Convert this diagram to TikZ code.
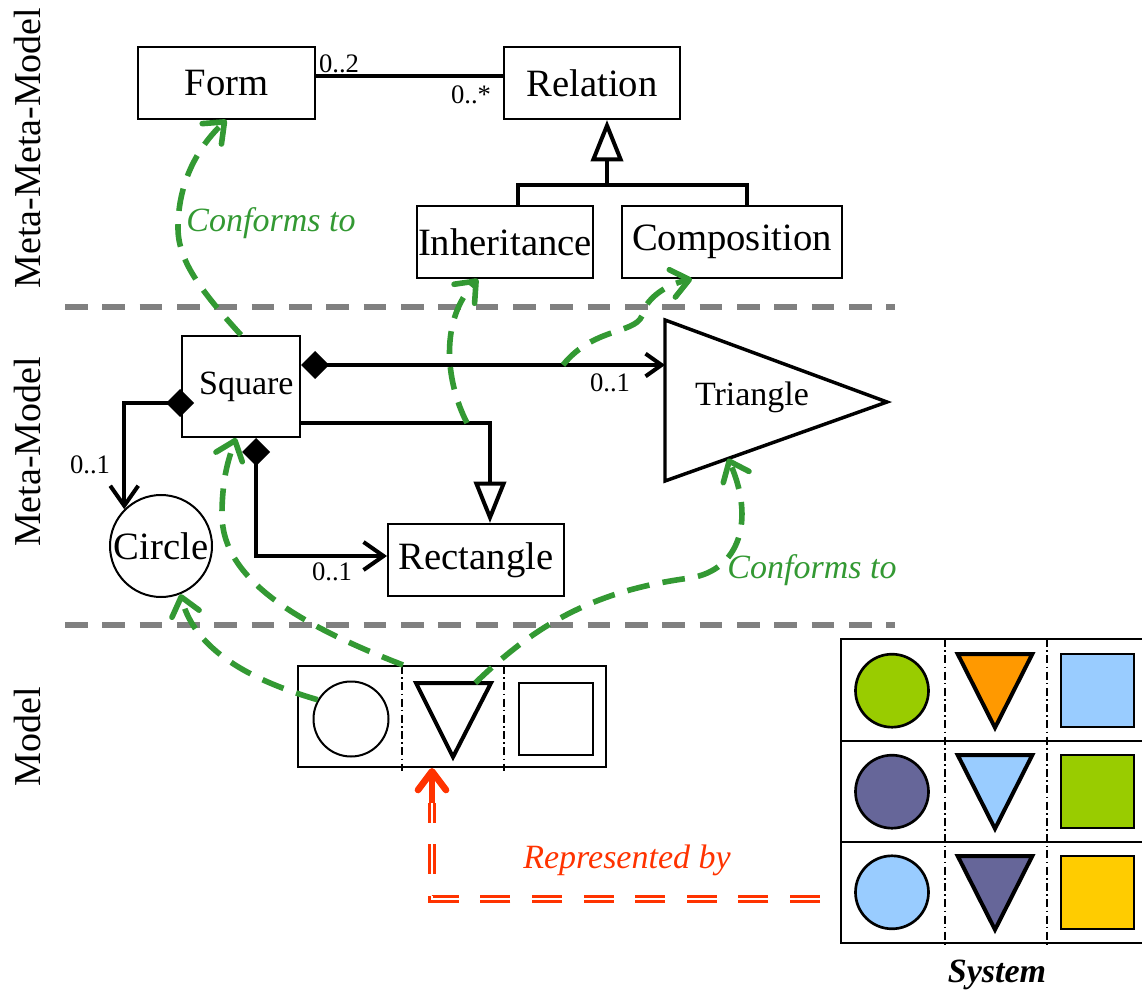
\documentclass[tikz,border=0pt]{standalone}
\usepackage{fontspec}
\setmainfont{Liberation Serif}
\usetikzlibrary{arrows.meta,calc}

\definecolor{conform}{HTML}{339933}
\definecolor{represent}{HTML}{FF3300}
\definecolor{levelgray}{HTML}{808080}
\definecolor{sysgreen}{HTML}{99CC00}
\definecolor{sysorange}{HTML}{FF9900}
\definecolor{sysblue}{HTML}{99CCFF}
\definecolor{syspurple}{HTML}{666699}
\definecolor{sysyellow}{HTML}{FFCC00}
\newcommand{\px}{0.75pt}

\tikzset{
  umlbox/.style={draw, line width=1.5pt, inner sep=0pt, font=\fontsize{29}{34}\selectfont},
  umlline/.style={line width=3pt},
  mult/.style={inner sep=0pt, font=\fontsize{20}{24}\selectfont},
  levelline/.style={levelgray, line width=4.5pt, dash pattern=on 17pt off 11pt},
  divider/.style={line width=1.8pt, dash pattern=on 6pt off 2.5pt on 1.2pt off 2.5pt},
  conformsto/.style={conform, line width=4.2pt, dash pattern=on 17pt off 10pt,
    -{Straight Barb[round, length=13pt, width=21pt]}},
  conflabel/.style={conform, inner sep=0pt, font=\fontsize{25.5}{30}\selectfont\itshape},
  represents/.style={represent, line width=2.4pt, double=white, double distance=1.4pt,
    dash pattern=on 22.5pt off 16.2pt},
  levellabel/.style={rotate=90, inner sep=0pt, font=\fontsize{28.5}{34}\selectfont},
  comp/.tip={Diamond[length=21pt, width=21pt]},
  nav/.tip={Straight Barb[length=15pt, width=21pt]},
  gen/.tip={Triangle[open, length=31pt, width=24pt]}
}

\begin{document}
\begin{tikzpicture}[x=0.75pt, y=-0.75pt]
\useasboundingbox (0,0) rectangle (1142,994);

% levels
\node[levellabel] (mmmodel) at (28,148) {Meta-Meta-Model};
\node[levellabel] (mmodel) at (28,452) {Meta-Model};
\node[levellabel] (mlevel) at (28,737) {Model};
\draw[levelline] (65,307) -- (895,307);
\draw[levelline] (65,625) -- (895,625);

% meta-meta-model
\node[umlbox, minimum width=177*\px, minimum height=72*\px] (form) at (226.5,83) {Form};
\node[umlbox, minimum width=176*\px, minimum height=72*\px] (relation) at (592,83) {Relation};
\node[umlbox, minimum width=176*\px, minimum height=72*\px] (inheritance) at (505,242) {Inheritance};
\node[umlbox, minimum width=220*\px, minimum height=72*\px] (composition) at (732,242) {Composition};
\draw[umlline] (form.east |- 0,76) -- (relation.west |- 0,76);
\node[mult] at (339,64) {0..2};
\node[mult] at (471,95) {0..*};
\draw[umlline] (inheritance.north -| 518,0) -- (518,185) -- (747,185) -- (composition.north -| 747,0);
\draw[umlline, -{gen}] (607,185) -- (relation.south -| 607,0);

% meta-model
\node[umlbox, minimum width=118*\px, minimum height=101*\px, font=\fontsize{25.5}{30}\selectfont] (square) at (241,386.5) {\hspace*{8pt}Square};
\node[umlbox, minimum width=176*\px, minimum height=72*\px] (rectangle) at (476,560) {Rectangle};
\node[umlbox, circle, minimum size=102*\px] (circle) at (161,546) {Circle};
\coordinate (tri-a) at (665,320);
\coordinate (tri-b) at (665,481);
\coordinate (tri-c) at (887,402);
\draw[line width=2.6pt, line join=miter] (tri-a) -- (tri-b) -- (tri-c) -- cycle;
\node[font=\fontsize{25.5}{30}\selectfont] (triangle) at (752,397) {Triangle};

\draw[umlline, {comp}-{Straight Barb[length=12pt, width=17pt]}] (square.east |- 0,365) -- (tri-a |- 0,365);
\draw[umlline, {comp}-{nav}] ($(square.west |- 0,403)+(13,0)$) -| (circle.north west);
\draw[umlline, {comp}-{nav}] (square.south -| 256,0) |- (rectangle.west |- 0,556);
\draw[umlline, -{gen}] (square.east |- 0,423) -| (rectangle.north -| 490,0);
\node[mult] at (610,383) {0..1};
\node[mult] at (90,465) {0..1};
\node[mult] at (332,572) {0..1};

% model
\node[draw, line width=1.5pt, minimum width=308*\px, minimum height=101*\px] (model) at (452,716.5) {};
\draw[divider] (402,666) -- (402,771);
\draw[divider] (504,666) -- (504,771);
\node[draw, circle, line width=1.5pt, minimum size=75*\px] (mcircle) at (351,719) {};
\coordinate (mtri-l) at (416,683);
\coordinate (mtri-r) at (491,683);
\coordinate (mtri-b) at (453,757);
\draw[line width=3pt] (mtri-l) -- (mtri-r) -- (mtri-b) -- cycle;
\draw[line width=1.5pt] (519,683) rectangle (593,755);

% system
\node[draw, line width=1.5pt, minimum width=309*\px, minimum height=304*\px] (system) at (995.5,791) {};
\draw[line width=1.5pt] (841,741) -- (1150,741);
\draw[line width=1.5pt] (841,842) -- (1150,842);
\draw[divider] (945,639) -- (945,945);
\draw[divider] (1047,639) -- (1047,945);
\filldraw[fill=sysgreen, line width=2pt] (892,690.7) circle (36.5);
\filldraw[fill=syspurple, line width=2pt] (892,791.7) circle (36.5);
\filldraw[fill=sysblue, line width=2pt] (892,892.3) circle (36.5);
\filldraw[fill=sysorange, line width=3pt] (957.7,654) -- (1032.3,654) -- (995,727.7) -- cycle;
\filldraw[fill=sysblue, line width=3pt] (957.7,755) -- (1032.3,755) -- (995,828.7) -- cycle;
\filldraw[fill=syspurple, line width=3pt] (957.7,856) -- (1032.3,856) -- (995,929.7) -- cycle;
\filldraw[fill=sysblue, line width=1.5pt] (1060.7,654.3) rectangle (1134,726.7);
\filldraw[fill=sysgreen, line width=1.5pt] (1060.7,755.3) rectangle (1134,827.7);
\filldraw[fill=sysyellow, line width=1.5pt] (1060.7,856.3) rectangle (1134,928.7);
\node[font=\fontsize{25.5}{30}\selectfont\bfseries\itshape] (systemlabel) at (997,975) {System};

% represented by
\coordinate (repstart) at (820,899);
\draw[represents] (repstart) -| (432,803);
\draw[represent, line width=5pt, -{Straight Barb[round, length=14pt, width=21pt]}] (432,803) -- (model.south -| 432,0);
\node[represent, font=\fontsize{25.5}{30}\selectfont\itshape] (replabel) at (627,860) {Represented by};

% conforms to
\draw[conformsto] (square.north) .. controls (200,290) and (178,260) .. (178,228) .. controls (178,180) and (200,145) .. (form.south);
\draw[conformsto] (mcircle.150) .. controls (250,680) and (195,650) .. (circle.-68);
\draw[conformsto] (model.north -| 403,0) .. controls (300,625) and (222,580) .. (222,515) .. controls (222,480) and (228,460) .. (square.south -| 236,0);
\draw[conformsto] ($(mtri-l)!0.79!(mtri-r)$) .. controls (540,620) and (600,590) .. (690,578) .. controls (740,570) and (755,520) .. ($(tri-b)!0.284!(tri-c)$);
\draw[conformsto] (467,423) .. controls (445,380) and (440,320) .. (inheritance.south -| 478,0);
\draw[conformsto] (563,365) .. controls (595,325) and (640,335) .. (643,312) .. controls (648,298) and (665,285) .. (composition.south -| 692,0);
\node[conflabel] (conf1) at (271,223) {Conforms to};
\node[conflabel] (conf2) at (812,570) {Conforms to};
\end{tikzpicture}
\end{document}
